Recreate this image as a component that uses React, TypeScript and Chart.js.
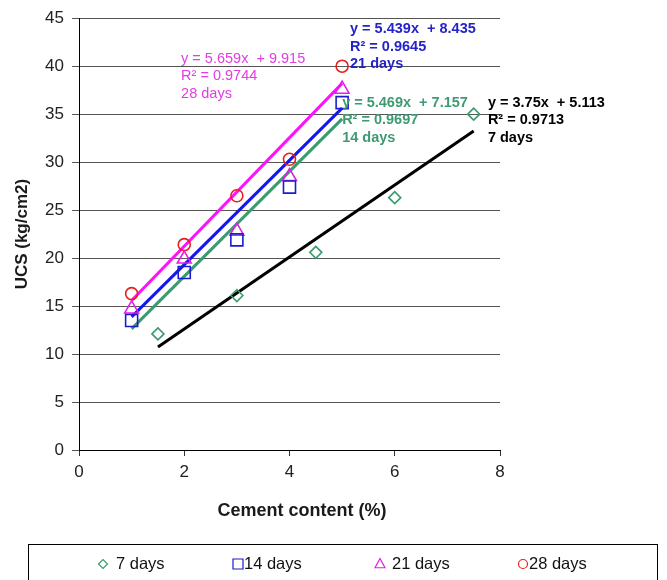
import React, { useEffect, useRef } from 'react';
import { Chart, registerables } from 'chart.js';

Chart.register(...registerables);

// ---- data ----
const seriesNames = ['7 days', '14 days', '21 days', '28 days'];
const cement7 = [1.5, 3, 4.5, 6, 7.5];
const ucs7 = [12.1, 16.1, 20.6, 26.3, 35.0];
const cementLater = [1, 2, 3, 4, 5];
const ucs14 = [13.5, 18.5, 21.9, 27.4, 36.2];
const ucs21 = [14.7, 19.9, 22.8, 28.5, 37.6];
const ucs28 = [16.3, 21.4, 26.5, 30.3, 40.0];

// linear trendlines as printed on the chart (7, 14, 21, 28 days)
const trendSlopes = [3.75, 5.469, 5.439, 5.659];
const trendIntercepts = [5.113, 7.157, 8.435, 9.915];
const trendR2 = ['0.9713', '0.9697', '0.9645', '0.9744'];

const xTickValues = [0, 2, 4, 6, 8];
const yTickValues = [0, 5, 10, 15, 20, 25, 30, 35, 40, 45];

const xTitle = 'Cement content (%)';
const yTitle = 'UCS (kg/cm2)';

// ---- styles ----
const markerColors = ['#3c9a6c', '#1c1ccc', '#e41ee4', '#e8201c'];
const markerStyles = ['rectRot', 'rect', 'triangle', 'circle'];
const markerRadius = [6, 8.5, 8, 6];
const lineColors = ['#000000', '#3a9a70', '#1515f0', '#ff10ff'];
const textColors = ['#000000', '#3f9a72', '#2323c8', '#e23ee2'];
const textBold = [true, true, true, false];
const FONT = '"Liberation Sans", Arial, sans-serif';

const xsBySeries = [cement7, cementLater, cementLater, cementLater];
const ysBySeries = [ucs7, ucs14, ucs21, ucs28];

function trendPoints(i: number) {
  const xs = xsBySeries[i];
  const lo = Math.min(...xs);
  const hi = Math.max(...xs);
  return [lo, hi].map((x) => ({ x, y: trendSlopes[i] * x + trendIntercepts[i] }));
}

// anchors (data coords) for the trendline equation labels
const labelAnchors = [
  { x: 7.77, y: 36.2 },
  { x: 5.0, y: 36.2 },
  { x: 5.15, y: 43.85 },
  { x: 1.94, y: 40.75 },
];

function drawMarker(ctx: CanvasRenderingContext2D, style: string, x: number, y: number, r: number) {
  ctx.beginPath();
  if (style === 'rectRot') {
    ctx.moveTo(x - r, y);
    ctx.lineTo(x, y - r);
    ctx.lineTo(x + r, y);
    ctx.lineTo(x, y + r);
    ctx.closePath();
  } else if (style === 'rect') {
    ctx.rect(x - r, y - r, 2 * r, 2 * r);
  } else if (style === 'triangle') {
    ctx.moveTo(x, y - r * 1.1);
    ctx.lineTo(x + r, y + r * 0.75);
    ctx.lineTo(x - r, y + r * 0.75);
    ctx.closePath();
  } else {
    ctx.arc(x, y, r, 0, Math.PI * 2);
  }
  ctx.stroke();
}

const overlayPlugin = {
  id: 'overlay',
  afterDraw(chart: any) {
    const ctx: CanvasRenderingContext2D = chart.ctx;
    const xs = chart.scales.x;
    const ys = chart.scales.y;
    ctx.save();

    // x axis title
    ctx.fillStyle = '#1a1a1a';
    ctx.font = `bold 18px ${FONT}`;
    ctx.textAlign = 'center';
    ctx.textBaseline = 'middle';
    ctx.fillText(xTitle, 302, 511);

    // trendline labels
    ctx.textAlign = 'left';
    for (let i = 0; i < 4; i++) {
      const a = labelAnchors[i];
      const px = xs.getPixelForValue(a.x);
      const py = ys.getPixelForValue(a.y);
      ctx.fillStyle = textColors[i];
      ctx.font = `${textBold[i] ? 'bold ' : ''}14.5px ${FONT}`;
      const lines = [
        `y = ${trendSlopes[i]}x  + ${trendIntercepts[i]}`,
        `R² = ${trendR2[i]}`,
        seriesNames[i],
      ];
      lines.forEach((t, k) => ctx.fillText(t, px, py + k * 17.5));
    }

    // legend box
    ctx.strokeStyle = '#000';
    ctx.lineWidth = 1;
    ctx.strokeRect(28.5, 544.5, 629, 60);
    const legendMarkerX = [103, 238, 380, 523];
    const legendTextX = [116, 244, 392, 529];
    const legendR = [4.5, 5, 5, 4.5];
    ctx.font = `16.5px ${FONT}`;
    ctx.textBaseline = 'middle';
    for (let i = 0; i < 4; i++) {
      ctx.strokeStyle = markerColors[i];
      ctx.lineWidth = 1.2;
      drawMarker(ctx, markerStyles[i], legendMarkerX[i], 564, legendR[i]);
      ctx.fillStyle = '#111';
      ctx.fillText(seriesNames[i], legendTextX[i], 564);
    }
    ctx.restore();
  },
};

export default function App() {
  const canvasRef = useRef<HTMLCanvasElement | null>(null);

  useEffect(() => {
    if (!canvasRef.current) return;
    const markerSets = seriesNames.map((name, i) => ({
      label: name,
      data: xsBySeries[i].map((x, k) => ({ x, y: ysBySeries[i][k] })),
      showLine: false,
      pointStyle: markerStyles[i] as any,
      pointRadius: markerRadius[i],
      pointHoverRadius: markerRadius[i],
      pointBorderWidth: 1.6,
      pointBorderColor: markerColors[i],
      pointBackgroundColor: 'rgba(0,0,0,0)',
      borderColor: markerColors[i],
      order: 0,
    }));
    const trendSets = seriesNames.map((name, i) => ({
      label: `${name} trend`,
      data: trendPoints(i),
      showLine: true,
      pointRadius: 0,
      borderColor: lineColors[i],
      borderWidth: 3,
      order: 1,
    }));

    const chart = new Chart(canvasRef.current, {
      type: 'scatter',
      data: { datasets: [...markerSets, ...trendSets] as any },
      options: {
        responsive: false,
        animation: false,
        layout: { padding: { left: 0, right: 167, top: 17, bottom: 0 } },
        plugins: {
          legend: { display: false },
          tooltip: { enabled: false },
        },
        scales: {
          x: {
            type: 'linear',
            min: 0,
            max: 8,
            afterBuildTicks: (s: any) => {
              s.ticks = xTickValues.map((v) => ({ value: v }));
            },
            afterFit: (s: any) => {
              s.height = 130;
            },
            ticks: {
              color: '#222',
              font: { family: FONT, size: 17 },
              padding: 6,
            },
            grid: { drawOnChartArea: false, drawTicks: true, tickLength: 6, color: '#333' },
            border: { display: true, color: '#000', width: 1 },
          },
          y: {
            type: 'linear',
            min: 0,
            max: 45,
            afterBuildTicks: (s: any) => {
              s.ticks = yTickValues.map((v) => ({ value: v }));
            },
            afterFit: (s: any) => {
              s.width = 79;
            },
            ticks: {
              color: '#222',
              font: { family: FONT, size: 17 },
              padding: 8,
            },
            grid: { color: '#555555', lineWidth: 1, tickLength: 7 },
            border: { display: true, color: '#000', width: 1 },
            title: {
              display: true,
              text: yTitle,
              color: '#1a1a1a',
              font: { family: FONT, size: 17, weight: 'bold' },
              padding: { top: 12, bottom: 0 },
            },
          },
        },
      },
      plugins: [overlayPlugin],
    });
    return () => chart.destroy();
  }, []);

  return (
    <div style={{ position: 'absolute', left: 0, top: 0, width: 667, height: 580, background: '#fff' }}>
      <canvas ref={canvasRef} width={667} height={580} style={{ width: 667, height: 580, display: 'block' }} />
    </div>
  );
}
